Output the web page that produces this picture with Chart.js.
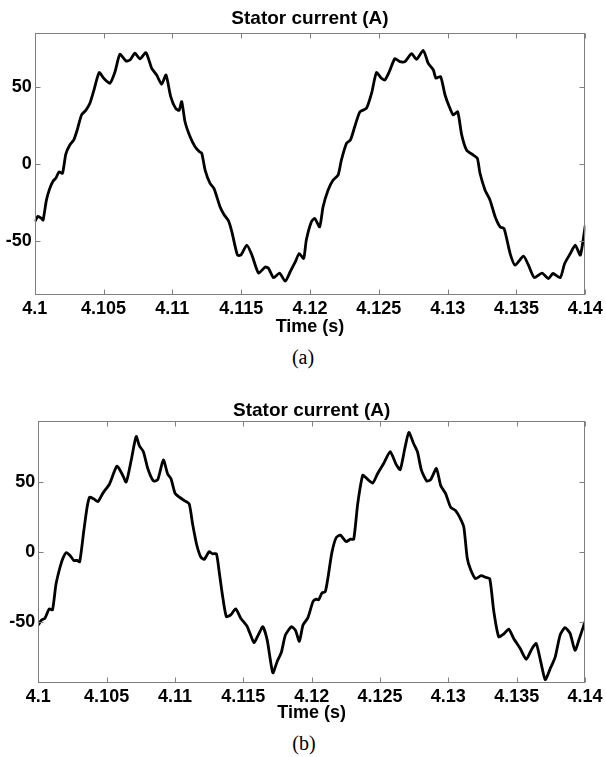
<!DOCTYPE html>
<html><head><meta charset="utf-8">
<script src="https://cdn.jsdelivr.net/npm/chart.js@4/dist/chart.umd.min.js"></script>
<style>
html,body{margin:0;padding:0;background:#fff;}
body{width:606px;height:757px;position:relative;overflow:hidden;}
canvas{position:absolute;left:0;}
.cap{position:absolute;width:100px;text-align:center;font-family:"Liberation Serif","Times New Roman",serif;font-size:20px;line-height:20px;color:#000;}
</style></head><body>
<canvas id="ca" width="606" height="345" style="top:0"></canvas>
<div class="cap" style="left:253px;top:347px">(a)</div>
<canvas id="cb" width="606" height="345" style="top:380px"></canvas>
<div class="cap" style="left:254px;top:733px">(b)</div>
<script>
const chartTitle = 'Stator current (A)';
const xAxisTitle = 'Time (s)';
const xTickValues = [4.1, 4.105, 4.11, 4.115, 4.12, 4.125, 4.13, 4.135, 4.14];
const xTickLabels = ['4.1', '4.105', '4.11', '4.115', '4.12', '4.125', '4.13', '4.135', '4.14'];
const yTickValues = [-50, 0, 50];
const yTickLabels = ['-50', '0', '50'];

// (a)
const timeA = [4.1, 4.10024, 4.10049, 4.10061, 4.10085, 4.10109, 4.10134, 4.10153, 4.10177, 4.10202,
  4.10226, 4.10255, 4.10284, 4.10308, 4.1034, 4.10371, 4.10401, 4.1043, 4.10468, 4.10502,
  4.10546, 4.10583, 4.10619, 4.10663, 4.10692, 4.10728, 4.10765, 4.10808, 4.1085, 4.10886,
  4.10922, 4.10954, 4.10988, 4.11024, 4.11049, 4.11068, 4.11092, 4.11129, 4.11165, 4.11197,
  4.11214, 4.11238, 4.11274, 4.11303, 4.11347, 4.11376, 4.11408, 4.11432, 4.11473, 4.11498,
  4.11541, 4.11578, 4.11626, 4.11675, 4.11699, 4.11735, 4.11779, 4.1182, 4.11857, 4.11893,
  4.11922, 4.11954,
  4.11973, 4.1201, 4.12034, 4.1207, 4.12095, 4.12131, 4.12168, 4.12204, 4.12228, 4.12265,
  4.12294, 4.12325, 4.12362, 4.1241, 4.12447, 4.12483, 4.12519, 4.12544, 4.12575, 4.12617,
  4.12653, 4.12689, 4.12738, 4.12774, 4.12823, 4.12859, 4.12896, 4.12915, 4.12949, 4.12981,
  4.13012, 4.13041, 4.13073, 4.13102, 4.13138, 4.13187, 4.13216, 4.13235, 4.13272, 4.13308,
  4.13345, 4.13381, 4.1341, 4.13454, 4.1349, 4.13551, 4.13587, 4.13629, 4.13685, 4.13733,
  4.13765, 4.13818, 4.1385, 4.13891, 4.13927, 4.13964, 4.14];
const currentA = [-37.6, -34, -35.4, -36.5, -23.5, -16, -11, -9.3, -5, -6,
  6.5, 12.4, 15.7, 22, 32, 35, 39.6, 48, 59.6, 55.9,
  52.6, 60, 71.5, 67.2, 67.8, 72.2, 68.5, 72.6, 62.4, 58,
  52, 58, 44, 36.3, 35, 40.7, 27.6, 17.8, 11.3, 8,
  7, -3.9, -12.6, -16, -28, -33, -37, -44, -59.3, -59.3,
  -52.8, -59.3, -71, -67, -68, -74, -71, -76.3, -70, -63.7,
  -58.3, -61.5,
  -49.6, -37.6, -35.4, -40.9, -27.8, -17, -10.4, -7.2, 2.6, 13.5,
  15.7, 24.3, 34, 36.3, 46, 59.6, 55.9, 54.8, 60, 68.7,
  66.7, 66.7, 72, 68.3, 74, 65.6, 61.3, 56, 57, 45,
  37.4, 32, 34, 19, 9, 5.9, 3.7, -6, -17, -23.5,
  -34.3, -40.9, -42, -58.3, -65.9, -60, -65.9, -74, -71, -74.6,
  -71.3, -74, -64.8, -58.3, -52.8, -59.3, -39.8];

// (b)
const timeB = [4.1, 4.10024, 4.10049, 4.1008, 4.10104, 4.10129, 4.10158, 4.10182, 4.10206, 4.10235,
  4.1026, 4.10284, 4.10303, 4.10333, 4.10357, 4.10376, 4.10405, 4.10437, 4.10473, 4.10522,
  4.10575, 4.10614, 4.10643, 4.1068, 4.10716, 4.1074, 4.10769, 4.10801, 4.10842, 4.10874,
  4.10915, 4.10947, 4.10971, 4.11, 4.11032, 4.11068, 4.11104, 4.11129, 4.11158, 4.11189,
  4.11214, 4.1125, 4.11274, 4.11303, 4.11323, 4.11347, 4.11376, 4.11408, 4.11444, 4.11481,
  4.11529, 4.11578, 4.11609, 4.11643, 4.11675, 4.11716, 4.11748, 4.11779, 4.11808, 4.11852,
  4.11881, 4.1191,
  4.11937, 4.11973, 4.1201, 4.12034, 4.12051, 4.12075, 4.121, 4.12119, 4.12148, 4.1218,
  4.12211, 4.12252, 4.12284, 4.12308, 4.12337, 4.12374, 4.12405, 4.12447, 4.12483, 4.12527,
  4.12575, 4.12617, 4.12648, 4.12682, 4.12711, 4.12745, 4.12774, 4.12803, 4.12842, 4.12871,
  4.12913, 4.12944, 4.12981, 4.13017, 4.13053, 4.1309, 4.13114, 4.13138, 4.13163, 4.13199,
  4.1324, 4.13272, 4.13303, 4.13333, 4.13369, 4.1341, 4.13442, 4.13478, 4.13527, 4.1357,
  4.13612, 4.13643, 4.13677, 4.13709, 4.13745, 4.13782, 4.13818, 4.13854, 4.13891, 4.13927,
  4.13959, 4.14];
const currentB = [-51.9, -48.3, -47, -40.4, -41, -23, -11, -3.8, -0.2, -2.6,
  -5.8, -5.8, -6.7, 15.4, 32.2, 39.4, 38.2, 36.3, 42.3, 49,
  61.5, 55.8, 50.2, 65.9, 82.7, 76, 71.9, 59.9, 51, 51.9,
  65.9, 55.8, 52.6, 42.3, 39.4, 37, 34.6, 20.2, 5.8, -3.4,
  -5, 0.5, -1, -1, -13.5, -30.3, -45.9, -44.7, -40.4, -47,
  -53.1, -64.4, -59.1, -53.1, -62.7, -86, -77.9, -71.2, -59.1, -53.1,
  -55.5, -63.5,
  -51.9, -46.6, -35.1, -33.4, -33.9, -29.1, -27.9, -18.3, -0.2, 10.6,
  12.3, 7.7, 9.4, 9.4, 34.6, 55, 52.6, 49.5, 56.3, 63.5,
  71.9, 63, 59.1, 74.3, 85.6, 77.9, 71.9, 58.7, 51, 51.9,
  59.9, 47.8, 41.8, 32.2, 29.8, 23.8, 17.8, -3.8, -12.3, -18.8,
  -16.6, -17.8, -18.8, -42.3, -60.3, -57.9, -54.8, -61.5, -68.8, -76.4,
  -68.8, -65.1, -78.4, -90.9, -83.2, -74.8, -59.1, -53.8, -57.9, -70,
  -61.5, -49.5];

const BOLD = '"Liberation Sans", Arial, Helvetica, sans-serif';

const framePlugin = {
  id: 'frameTicks',
  afterDraw(chart, args, opts) {
    const { ctx, chartArea: a, scales: { x, y } } = chart;
    ctx.save();
    ctx.strokeStyle = '#7f7f7f';
    ctx.lineWidth = 1;
    const L = Math.round(a.left) + 0.5, R = Math.round(a.right) - 0.5;
    const T = Math.round(a.top) + 0.5, B = Math.round(a.bottom) - 0.5;
    ctx.strokeRect(L, T, R - L, B - T);
    ctx.beginPath();
    x.ticks.forEach(t => {
      const px = Math.round(x.getPixelForValue(t.value)) + 0.5;
      ctx.moveTo(px, T); ctx.lineTo(px, T + 5);
      ctx.moveTo(px, B); ctx.lineTo(px, B - 5);
    });
    y.ticks.forEach(t => {
      const py = Math.round(y.getPixelForValue(t.value)) + 0.5;
      ctx.moveTo(L, py); ctx.lineTo(L + 5, py);
      ctx.moveTo(R, py); ctx.lineTo(R - 5, py);
    });
    ctx.stroke();
    ctx.fillStyle = '#000';
    ctx.font = 'bold 19px ' + BOLD;
    ctx.textAlign = 'center';
    ctx.textBaseline = 'middle';
    ctx.fillText(opts.text, (a.left + a.right) / 2, opts.y);
    ctx.restore();
  }
};

function makeChart(id, times, values, g) {
  return new Chart(document.getElementById(id), {
    type: 'line',
    data: {
      datasets: [{
        data: times.map((t, i) => ({ x: t, y: values[i] })),
        borderColor: '#000',
        borderWidth: 2.8,
        pointRadius: 0,
        tension: 0.2,
        fill: false
      }]
    },
    options: {
      responsive: false,
      animation: false,
      devicePixelRatio: 1,
      layout: { padding: { left: 0, top: g.padTop, right: g.padRight, bottom: 0 } },
      plugins: {
        legend: { display: false },
        tooltip: { enabled: false },
        title: { display: false },
        frameTicks: { text: chartTitle, y: g.titleY }
      },
      scales: {
        x: {
          type: 'linear',
          min: 4.1, max: 4.14,
          grid: { display: false, drawTicks: false },
          border: { display: false },
          afterBuildTicks: s => { s.ticks = xTickValues.map(v => ({ value: v })); },
          afterFit: s => { s.height = g.xHeight; },
          ticks: {
            autoSkip: false, maxRotation: 0, minRotation: 0,
            padding: g.tickPad, color: '#000',
            font: { family: BOLD, size: 18, weight: 'bold' },
            callback: (v, i) => xTickLabels[i]
          },
          title: {
            display: true, text: xAxisTitle, color: '#000',
            font: { family: BOLD, size: 18, weight: 'bold' },
            padding: { top: 0, bottom: g.titlePadBottom }
          }
        },
        y: {
          type: 'linear',
          min: g.yMin, max: g.yMax,
          grid: { display: false, drawTicks: false },
          border: { display: false },
          afterBuildTicks: s => { s.ticks = yTickValues.map(v => ({ value: v })); },
          afterFit: s => { s.width = g.yWidth; },
          ticks: {
            padding: 3, color: '#000',
            font: { family: BOLD, size: 18, weight: 'bold' },
            callback: (v, i) => yTickLabels[i]
          }
        }
      }
    },
    plugins: [framePlugin]
  });
}

makeChart('ca', timeA, currentA, {
  padTop: 33.3, padRight: 20.7, yWidth: 34.7, xHeight: 50,
  yMin: -85.3, yMax: 85.2, titleY: 18.5, tickPad: 3, titlePadBottom: 7.2
});
makeChart('cb', timeB, currentB, {
  padTop: 41, padRight: 18.3, yWidth: 38.3, xHeight: 42,
  yMin: -93.3, yMax: 93.8, titleY: 30.7, tickPad: 3.5, titlePadBottom: 1.2
});
</script>
</body></html>
